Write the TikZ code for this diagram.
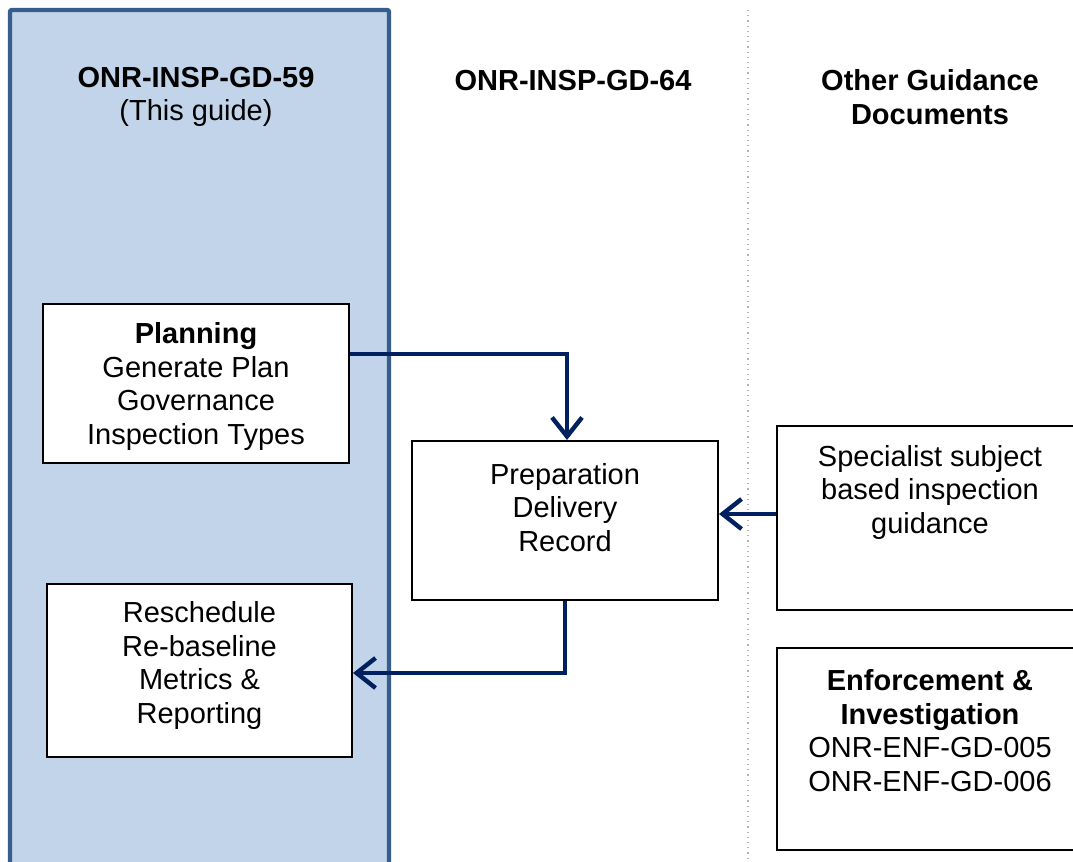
\documentclass[tikz,border=0pt]{standalone}
\usepackage{fontspec}
\setmainfont{Liberation Sans}
\usepackage{tikz}
\usetikzlibrary{arrows.meta, calc}
\definecolor{paleblue}{RGB}{193, 212, 233}
\definecolor{edgeblue}{RGB}{56, 93, 138}
\definecolor{navy}{RGB}{0, 32, 96}

\begin{document}
\begin{tikzpicture}[x=0.5pt, y=-0.5pt,
    every node/.style={font=\fontsize{14.5}{16.75}\selectfont, align=center},
    box/.style={draw=black, line width=1pt, fill=white, inner sep=0pt,
                minimum width=153pt, minimum height=79.5pt},
    flow/.style={draw=navy, line width=2.2pt, -{Straight Barb[length=9.5pt, width=15pt]}}]
  \useasboundingbox (0, 0) rectangle (1073, 862);

  % columns
  \draw[fill=paleblue, draw=edgeblue, line width=2.2pt, rounded corners=1pt] (10, 10) rectangle (389, 880);
  \draw[color=gray!60, dotted, line width=0.6pt] (748, 10) -- (748, 862);

  \node[] (t59) at (196, 97) {\textbf{ONR-INSP-GD-59}\\(This guide)};
  \node[] (t64) at (573, 81) {\textbf{ONR-INSP-GD-64}};
  \node[] (tother) at (930, 97) {\textbf{Other Guidance}\\\textbf{Documents}};

  % boxes
  \node[box] (plan) at (196, 383.5) {};
  \node[] at (196, 386.5) {\textbf{Planning}\\Generate Plan\\Governance\\Inspection Types};

  \node[box] (prep) at (565, 520.5) {};
  \node[] at (565, 507.5) {Preparation\\Delivery\\Record};

  \node[box, minimum width=152.5pt, minimum height=86.5pt] (resched) at (199.5, 670.5) {};
  \node[] at (199.5, 665.5) {Reschedule\\Re-baseline\\Metrics \&\\Reporting};

  \node[box, minimum width=156.5pt, minimum height=92pt] (spec) at (933.5, 518) {};
  \node[] at (930, 492) {Specialist subject\\based inspection\\guidance};

  \node[box, minimum width=156.5pt, minimum height=101pt] (enf) at (933.5, 749) {};
  \node[] at (930, 730.5) {\textbf{Enforcement \&}\\\textbf{Investigation}\\ONR-ENF-GD-005\\ONR-ENF-GD-006};

  % flows
  \coordinate (specin) at ([yshift=2pt]spec.west);
  \draw[flow] ([yshift=14.75pt]plan.east) -| ([xshift=1pt]prep.north);
  \draw[flow] (specin) -- (specin -| prep.east);
  \draw[flow] (prep.south) |- ([yshift=-1.25pt]resched.east);
\end{tikzpicture}
\end{document}
